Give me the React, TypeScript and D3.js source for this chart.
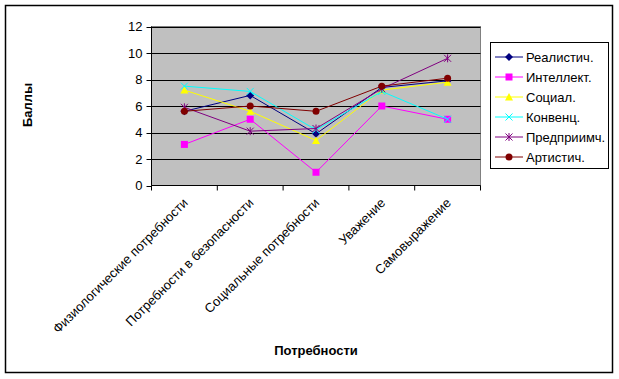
import React from "react";
import * as d3 from "d3";

const categories = [
  "Физиологические потребности",
  "Потребности в безопасности",
  "Социальные потребности",
  "Уважение",
  "Самовыражение",
];
const seriesNames = ["Реалистич.", "Интеллект.", "Социал.", "Конвенц.", "Предприимч.", "Артистич."];
const realist = [5.6, 6.8, 3.9, 7.4, 7.9];
const intellect = [3.1, 5.0, 1.0, 6.0, 5.0];
const social = [7.2, 5.6, 3.4, 7.2, 7.8];
const conv = [7.5, 7.1, 4.2, 7.1, 5.0];
const entrep = [5.9, 4.1, 4.3, 7.3, 9.6];
const artist = [5.6, 6.0, 5.6, 7.5, 8.1];
const yTicks = [0, 2, 4, 6, 8, 10, 12];
const colors = ["#000080", "#FF00FF", "#FFFF00", "#00FFFF", "#800080", "#800000"];
const markers = ["diamond", "square", "triangle", "x", "star", "circle"];

const allSeries = [realist, intellect, social, conv, entrep, artist];

function Marker({ type, x, y, color }: { type: string; x: number; y: number; color: string }) {
  if (type === "diamond") {
    return <path d={`M${x},${y - 4}L${x + 4},${y}L${x},${y + 4}L${x - 4},${y}Z`} fill={color} />;
  }
  if (type === "square") {
    return <rect x={x - 3.5} y={y - 3.5} width={7} height={7} fill={color} />;
  }
  if (type === "triangle") {
    return <path d={`M${x},${y - 4}L${x + 4},${y + 3.5}L${x - 4},${y + 3.5}Z`} fill={color} />;
  }
  if (type === "x") {
    return (
      <path d={`M${x - 3.5},${y - 3.5}L${x + 3.5},${y + 3.5}M${x - 3.5},${y + 3.5}L${x + 3.5},${y - 3.5}`} stroke={color} strokeWidth={1} />
    );
  }
  if (type === "star") {
    return (
      <path
        d={`M${x - 3.5},${y - 3.5}L${x + 3.5},${y + 3.5}M${x - 3.5},${y + 3.5}L${x + 3.5},${y - 3.5}M${x},${y - 4}L${x},${y + 4}`}
        stroke={color}
        strokeWidth={1}
      />
    );
  }
  return <circle cx={x} cy={y} r={3.5} fill={color} />;
}

export default function App() {
  const W = 619;
  const H = 379;
  const left = 151.5;
  const right = 480.5;
  const top = 26.5;
  const bottom = 185.5;

  const x = d3.scaleBand<string>().domain(categories).range([left, right]);
  const y = d3.scaleLinear().domain([0, 12]).range([bottom, top]);
  const cx = (c: string) => (x(c) as number) + x.bandwidth() / 2;

  const line = d3
    .line<number>()
    .x((_, i) => cx(categories[i]))
    .y((d) => y(d));

  const font = "Arial, 'Liberation Sans', sans-serif";
  const legendY = [57, 77, 97, 117, 137, 157];

  return (
    <svg
      width={W}
      height={H}
      style={{ position: "absolute", left: 0, top: 0, fontFamily: font }}
    >
      <rect x={0} y={0} width={W} height={H} fill="#fff" />
      <rect x={5.5} y={5.5} width={607} height={367} fill="#fff" stroke="#000" strokeWidth={1.5} />
      {/* plot area */}
      <rect x={left} y={top} width={right - left} height={bottom - top} fill="#C0C0C0" stroke="#808080" strokeWidth={1} />
      {yTicks.map((t) => (
        <g key={t}>
          {t > 0 && <line x1={left} x2={right} y1={Math.round(y(t)) + 0.5} y2={Math.round(y(t)) + 0.5} stroke="#000" />}
          <line x1={left - 5} x2={left} y1={Math.round(y(t)) + 0.5} y2={Math.round(y(t)) + 0.5} stroke="#000" />
          <text x={left - 9} y={y(t)} dy="0.35em" textAnchor="end" fontSize={13}>
            {t}
          </text>
        </g>
      ))}
      <line x1={left} x2={left} y1={top} y2={bottom} stroke="#000" />
      <line x1={left} x2={right} y1={bottom} y2={bottom} stroke="#000" />
      {categories.map((c, i) => (
        <line key={"t" + i} x1={x(c)!} x2={x(c)!} y1={bottom} y2={bottom + 5} stroke="#000" />
      ))}
      <line x1={right} x2={right} y1={bottom} y2={bottom + 5} stroke="#000" />
      {categories.map((c, i) => (
        <text
          key={"l" + i}
          transform={`translate(${cx(c) + 1},${bottom + 15}) rotate(-45)`}
          textAnchor="end"
          fontSize={13}
          dy="0.35em"
        >
          {c}
        </text>
      ))}
      {/* series */}
      {allSeries.map((s, si) => (
        <g key={"s" + si}>
          <path d={line(s) || ""} fill="none" stroke={colors[si]} strokeWidth={1} />
          {s.map((v, i) => (
            <Marker key={i} type={markers[si]} x={cx(categories[i])} y={y(v)} color={colors[si]} />
          ))}
        </g>
      ))}
      {/* titles */}
      <text
        transform={`translate(32,105) rotate(-90)`}
        textAnchor="middle"
        fontSize={13}
        fontWeight="bold"
      >
        Баллы
      </text>
      <text x={316} y={355} textAnchor="middle" fontSize={13} fontWeight="bold">
        Потребности
      </text>
      {/* legend */}
      <rect x={490.5} y={42.5} width={118} height={126} fill="#fff" stroke="#000" strokeWidth={1} />
      {seriesNames.map((n, i) => (
        <g key={"lg" + i}>
          <line x1={495} x2={523} y1={legendY[i]} y2={legendY[i]} stroke={colors[i]} strokeWidth={1} />
          <Marker type={markers[i]} x={509} y={legendY[i]} color={colors[i]} />
          <text x={526} y={legendY[i]} dy="0.35em" fontSize={13}>
            {n}
          </text>
        </g>
      ))}
    </svg>
  );
}
